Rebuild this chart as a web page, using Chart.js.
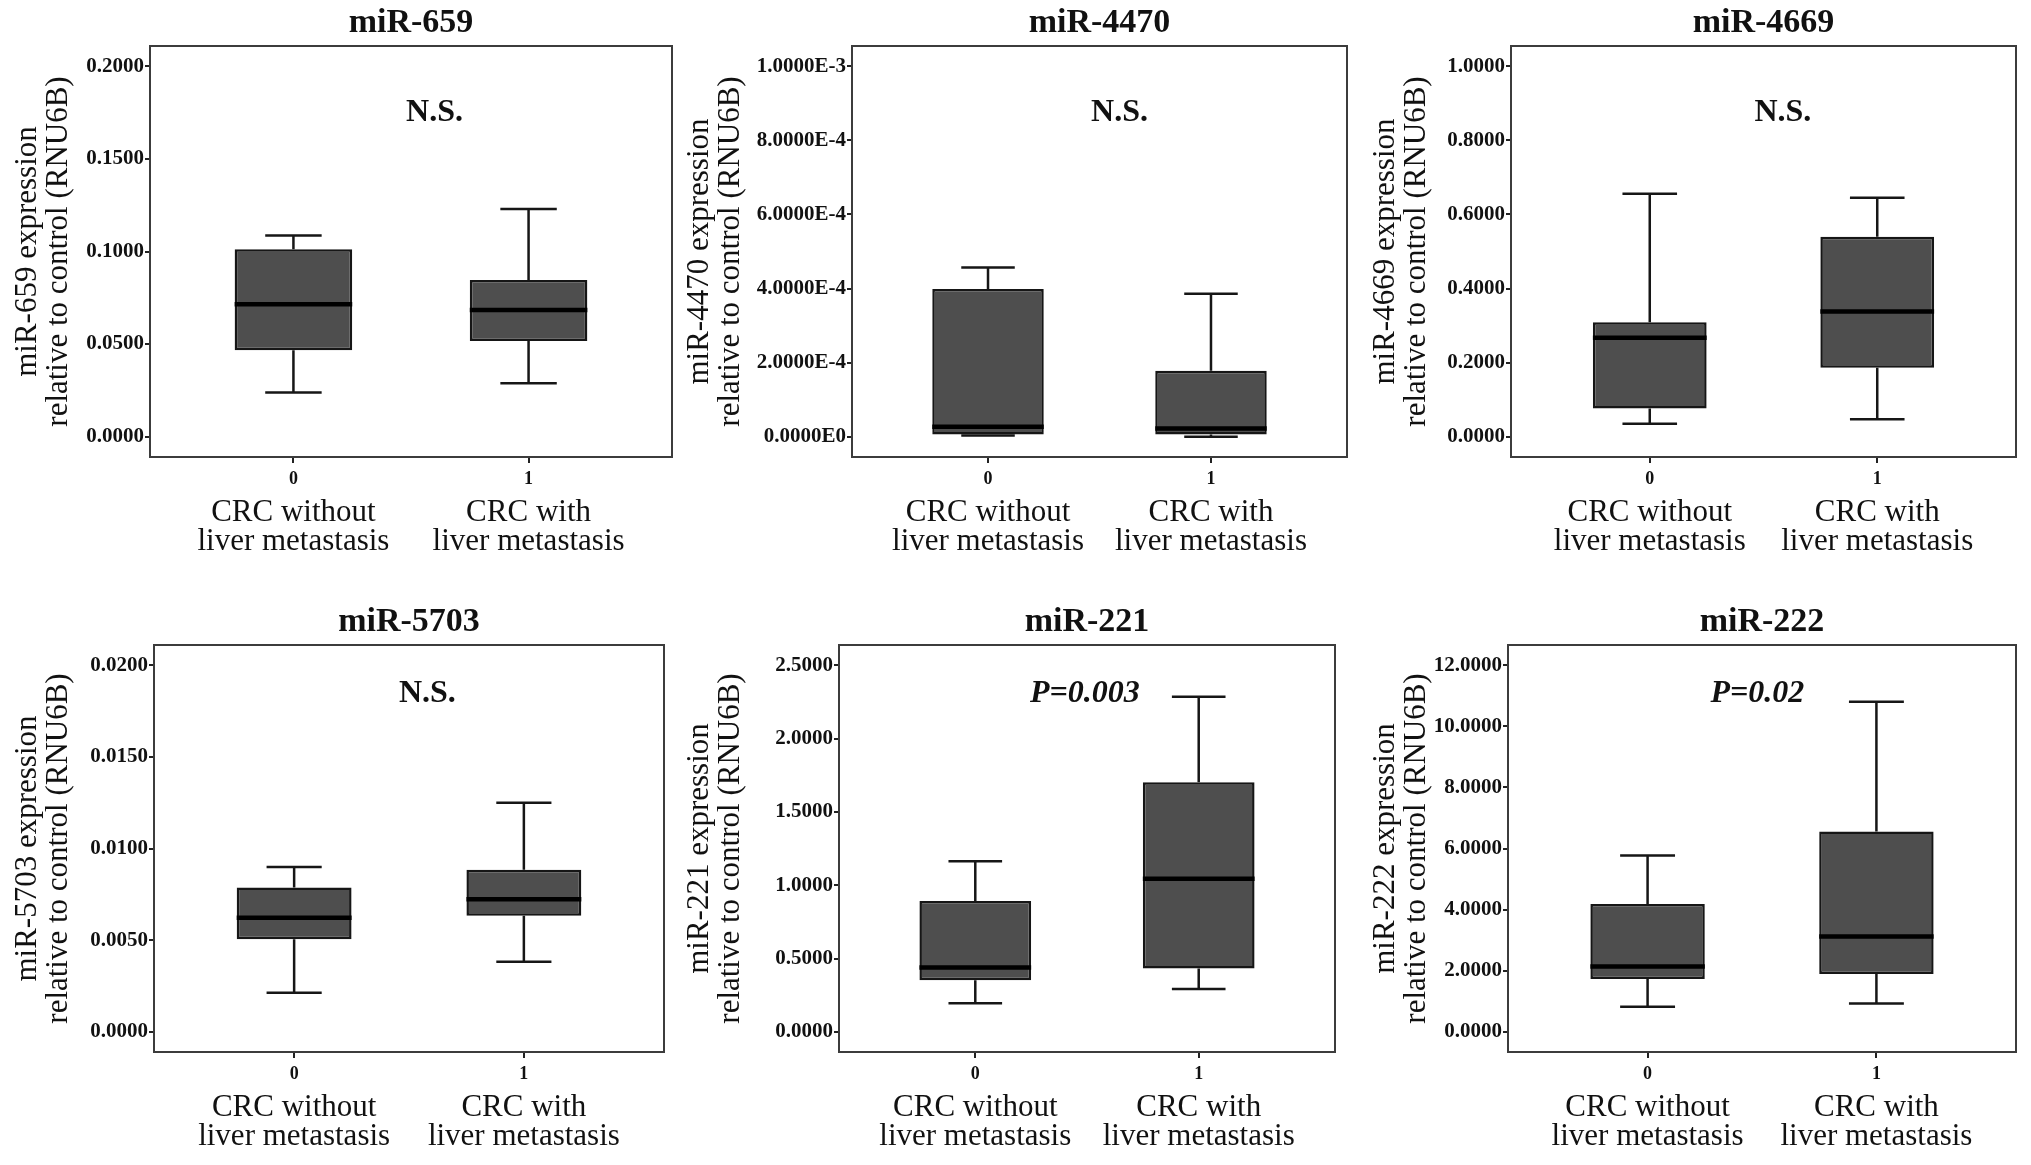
<!DOCTYPE html>
<html>
<head>
<meta charset="utf-8">
<title>miRNA expression box plots</title>
<script src="https://cdn.jsdelivr.net/npm/chart.js@4.4.1/dist/chart.umd.min.js"></script>
<style>
  html, body { margin: 0; padding: 0; background: #fff; }
  #pagina { position: relative; width: 2031px; height: 1165px; overflow: hidden; background: #fff; }
  #pagina canvas { position: absolute; }
</style>
</head>
<body>
<div id="pagina"></div>
<script>
// --- data ---
const GROUPS = [0, 1];
const GROUP_LABELS = [['CRC without', 'liver metastasis'], ['CRC with', 'liver metastasis']];
const PANEL_TITLES = ['miR-659', 'miR-4470', 'miR-4669', 'miR-5703', 'miR-221', 'miR-222'];
const Y_TITLES = [
    ['miR-659 expression', 'relative to control (RNU6B)'],
    ['miR-4470 expression', 'relative to control (RNU6B)'],
    ['miR-4669 expression', 'relative to control (RNU6B)'],
    ['miR-5703 expression', 'relative to control (RNU6B)'],
    ['miR-221 expression', 'relative to control (RNU6B)'],
    ['miR-222 expression', 'relative to control (RNU6B)'],
];
const SIGNIFICANCE = ['N.S.', 'N.S.', 'N.S.', 'N.S.', 'P=0.003', 'P=0.02'];

// one entry per panel, [group 0, group 1]
const WHISKER_LOW = [[0.0238, 0.0289], [0.000003, 0.0], [0.035, 0.047], [0.00213, 0.00382], [0.195, 0.292], [0.82, 0.93]];
const Q1 = [[0.0466, 0.0516], [0.000006, 0.000006], [0.076, 0.186], [0.00505, 0.00633], [0.352, 0.432], [1.73, 1.89]];
const MEDIAN = [[0.0715, 0.0684], [0.000027, 0.000022], [0.267, 0.338], [0.00622, 0.00723], [0.439, 1.044], [2.14, 3.12]];
const Q3 = [[0.1012, 0.0846], [0.000399, 0.000178], [0.309, 0.540], [0.00787, 0.00884], [0.892, 1.701], [4.18, 6.56]];
const WHISKER_HIGH = [[0.1087, 0.1229], [0.000457, 0.000386], [0.656, 0.645], [0.00899, 0.0125], [1.163, 2.285], [5.77, 10.80]];

const Y_TICKS = [
    [0, 0.05, 0.1, 0.15, 0.2],
    [0, 0.0002, 0.0004, 0.0006, 0.0008, 0.001],
    [0, 0.2, 0.4, 0.6, 0.8, 1.0],
    [0, 0.005, 0.01, 0.015, 0.02],
    [0, 0.5, 1.0, 1.5, 2.0, 2.5],
    [0, 2, 4, 6, 8, 10, 12],
];
const SCIENTIFIC = [false, true, false, false, false, false];

// --- placement of each panel on the page ---
const PAINEIS = [
    { left: 0,    top: 0,   width: 690, height: 580, padL: 12, padR: 18, padT: 6, padB: 17, yWidth: 138, notaX: 0.60, notaDY: 67 },
    { left: 680,  top: 0,   width: 690, height: 580, padL: 4,  padR: 23, padT: 6, padB: 17, yWidth: 168, notaX: 0.59, notaDY: 67 },
    { left: 1360, top: 0,   width: 671, height: 580, padL: 10, padR: 15, padT: 6, padB: 17, yWidth: 141, notaX: 0.585, notaDY: 67 },
    { left: 0,    top: 600, width: 690, height: 565, padL: 12, padR: 26, padT: 5, padB: 7,  yWidth: 142, notaX: 0.58, notaDY: 49 },
    { left: 680,  top: 600, width: 690, height: 565, padL: 4,  padR: 35, padT: 5, padB: 7,  yWidth: 155, notaX: 0.49, notaDY: 49 },
    { left: 1360, top: 600, width: 671, height: 565, padL: 10, padR: 15, padT: 5, padB: 7,  yWidth: 138, notaX: 0.48, notaDY: 49 },
];

const FAMILIA = "'Liberation Serif', 'Times New Roman', Times, serif";
const X_MIN = -0.61;
const X_MAX = 1.61;
const CAP = 0.12;
const HALF_BOX = 0.25;

Chart.defaults.font.family = FAMILIA;
Chart.defaults.color = '#111';

function formatarTick(valor, cientifico) {
    if (cientifico) {
        return valor.toExponential(4).toUpperCase().replace('+', '');
    }
    return valor.toFixed(4);
}

function pontosBigodes(p) {
    const pts = [];
    GROUPS.forEach((g, i) => {
        const alto = WHISKER_HIGH[p][i];
        const baixo = WHISKER_LOW[p][i];
        pts.push({ x: g, y: alto }, { x: g, y: Q3[p][i] }, { x: g, y: null });
        pts.push({ x: g, y: Q1[p][i] }, { x: g, y: baixo }, { x: g, y: null });
        pts.push({ x: g - CAP, y: alto }, { x: g + CAP, y: alto }, { x: g, y: null });
        pts.push({ x: g - CAP, y: baixo }, { x: g + CAP, y: baixo }, { x: g, y: null });
    });
    return pts;
}

function pontosMediana(p) {
    const pts = [];
    GROUPS.forEach((g, i) => {
        pts.push({ x: g - HALF_BOX, y: MEDIAN[p][i] }, { x: g + HALF_BOX, y: MEDIAN[p][i] }, { x: g, y: null });
    });
    return pts;
}

const pluginMoldura = {
    id: 'moldura',
    beforeDatasetsDraw(chart) {
        const { ctx, chartArea: a } = chart;
        ctx.save();
        ctx.strokeStyle = '#3c3c3c';
        ctx.lineWidth = 2;
        ctx.strokeRect(a.left, a.top, a.width, a.height);
        ctx.restore();
    },
};

const pluginNota = {
    id: 'nota',
    afterDatasetsDraw(chart, args, opts) {
        const { ctx, chartArea: a, scales } = chart;
        ctx.save();
        ctx.font = (opts.italico ? 'italic ' : '') + 'bold 32px ' + FAMILIA;
        ctx.fillStyle = '#111';
        ctx.textAlign = 'center';
        ctx.textBaseline = 'middle';
        ctx.fillText(opts.texto, scales.x.getPixelForValue(opts.x), a.top + opts.dy);
        ctx.restore();
    },
};

function criarPainel(p) {
    const cfg = PAINEIS[p];
    const canvas = document.createElement('canvas');
    canvas.width = cfg.width;
    canvas.height = cfg.height;
    canvas.style.left = cfg.left + 'px';
    canvas.style.top = cfg.top + 'px';
    canvas.style.width = cfg.width + 'px';
    canvas.style.height = cfg.height + 'px';
    document.getElementById('pagina').appendChild(canvas);

    const ticks = Y_TICKS[p];
    const faixa = ticks[ticks.length - 1] - ticks[0];
    const yMin = ticks[0] - 0.055 * faixa;
    const yMax = ticks[ticks.length - 1] + 0.055 * faixa;

    new Chart(canvas, {
        type: 'bar',
        data: {
            datasets: [
                {
                    type: 'line',
                    label: 'mediana',
                    data: pontosMediana(p),
                    borderColor: '#000',
                    borderWidth: 4.5,
                    pointRadius: 0,
                    tension: 0,
                    fill: false,
                    order: 0,
                },
                {
                    type: 'bar',
                    label: 'caixa',
                    data: GROUPS.map((g, i) => ({ x: g, y: [Q1[p][i], Q3[p][i]] })),
                    backgroundColor: '#4e4e4e',
                    borderColor: '#161616',
                    borderWidth: 2.5,
                    borderSkipped: false,
                    categoryPercentage: 1,
                    barPercentage: 0.5,
                    order: 1,
                },
                {
                    type: 'line',
                    label: 'bigodes',
                    data: pontosBigodes(p),
                    borderColor: '#161616',
                    borderWidth: 2.5,
                    pointRadius: 0,
                    tension: 0,
                    fill: false,
                    order: 2,
                },
            ],
        },
        options: {
            responsive: false,
            devicePixelRatio: 1,
            animation: false,
            events: [],
            layout: { padding: { left: cfg.padL, right: cfg.padR, top: cfg.padT, bottom: cfg.padB } },
            plugins: {
                legend: { display: false },
                tooltip: { enabled: false },
                title: {
                    display: true,
                    text: PANEL_TITLES[p],
                    fullSize: false,
                    color: '#111',
                    font: { size: 34, weight: 'bold', lineHeight: 1 },
                    padding: { top: 0, bottom: 6 },
                },
                nota: {
                    texto: SIGNIFICANCE[p],
                    italico: SIGNIFICANCE[p].startsWith('P'),
                    x: cfg.notaX,
                    dy: cfg.notaDY,
                },
            },
            scales: {
                x: {
                    type: 'linear',
                    position: 'bottom',
                    weight: 0,
                    min: X_MIN,
                    max: X_MAX,
                    offset: false,
                    bounds: 'data',
                    grid: { display: true, drawOnChartArea: false, drawTicks: true, tickLength: 6, offset: false, color: '#222', lineWidth: 2 },
                    border: { display: false },
                    afterBuildTicks: (escala) => { escala.ticks = GROUPS.map((g) => ({ value: g })); },
                    afterFit: (escala) => { escala.height = 36; },
                    ticks: {
                        autoSkip: false,
                        maxRotation: 0,
                        minRotation: 0,
                        padding: 6,
                        color: '#111',
                        font: { size: 18, weight: 'bold' },
                        callback: (valor) => String(valor),
                    },
                },
                x2: {
                    type: 'linear',
                    position: 'bottom',
                    weight: 1,
                    min: X_MIN,
                    max: X_MAX,
                    offset: false,
                    bounds: 'data',
                    grid: { display: false, drawTicks: false },
                    border: { display: false },
                    afterBuildTicks: (escala) => { escala.ticks = GROUPS.map((g) => ({ value: g })); },
                    afterFit: (escala) => { escala.height = 70; },
                    ticks: {
                        autoSkip: false,
                        maxRotation: 0,
                        minRotation: 0,
                        padding: 6,
                        color: '#111',
                        font: { size: 31, lineHeight: 0.92 },
                        callback: (valor, indice) => GROUP_LABELS[indice],
                    },
                },
                y: {
                    type: 'linear',
                    position: 'left',
                    min: yMin,
                    max: yMax,
                    bounds: 'data',
                    grid: { display: true, drawOnChartArea: false, drawTicks: true, tickLength: 5, color: '#222', lineWidth: 2 },
                    border: { display: false },
                    afterBuildTicks: (escala) => { escala.ticks = ticks.map((v) => ({ value: v })); },
                    afterFit: (escala) => { escala.width = cfg.yWidth; },
                    ticks: {
                        padding: 1,
                        color: '#111',
                        font: { size: 21, weight: 'bold' },
                        callback: (valor) => formatarTick(valor, SCIENTIFIC[p]),
                    },
                    title: {
                        display: true,
                        text: Y_TITLES[p],
                        color: '#111',
                        padding: 0,
                        font: { size: 31, lineHeight: 1.0 },
                    },
                },
            },
        },
        plugins: [pluginMoldura, pluginNota],
    });
}

PANEL_TITLES.forEach((titulo, p) => criarPainel(p));
</script>
</body>
</html>
